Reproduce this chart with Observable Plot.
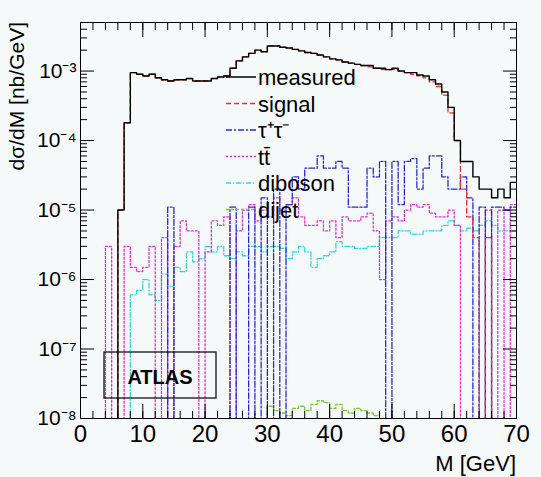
<!DOCTYPE html>
<html><head><meta charset="utf-8">
<script src="https://cdn.jsdelivr.net/npm/d3@7"></script>
<script src="https://cdn.jsdelivr.net/npm/@observablehq/plot@0.6"></script>
<style>body{margin:0;background:#f6f9f9;font-family:Arial,"Liberation Sans",sans-serif}</style>
</head><body><div id="c"></div>
<script>
const Z = 1e-10;
const edges = d3.range(0, 70);
const measured = [Z,Z,Z,Z,Z,Z,1e-5,1.8e-4,9.5e-4,9e-4,8.5e-4,9e-4,8e-4,7.5e-4,7.2e-4,7.5e-4,7.5e-4,7.8e-4,7.2e-4,7.2e-4,7.2e-4,7.8e-4,8.2e-4,8.5e-4,1.1e-3,1.4e-3,1.6e-3,1.8e-3,2e-3,1.9e-3,2.3e-3,2.3e-3,2.2e-3,2.15e-3,2.05e-3,1.95e-3,1.85e-3,1.8e-3,1.7e-3,1.6e-3,1.5e-3,1.45e-3,1.35e-3,1.3e-3,1.25e-3,1.2e-3,1.2e-3,1.1e-3,1.1e-3,1.05e-3,1.1e-3,1e-3,9.5e-4,9.5e-4,8.8e-4,8.5e-4,7.5e-4,6.5e-4,5e-4,3e-4,1e-4,5e-5,5e-5,3e-5,2e-5,2e-5,1.5e-5,2e-5,1.5e-5,2.5e-5];
const signal = [Z,Z,Z,Z,Z,Z,1e-5,1.8e-4,9.5e-4,9e-4,8.5e-4,9e-4,8e-4,7.5e-4,7.2e-4,7.5e-4,7.5e-4,7.8e-4,7.2e-4,7.2e-4,7.2e-4,7.8e-4,8.2e-4,8.5e-4,1.1e-3,1.4e-3,1.6e-3,1.8e-3,2e-3,1.9e-3,2.3e-3,2.3e-3,2.2e-3,2.15e-3,2.05e-3,1.95e-3,1.85e-3,1.8e-3,1.7e-3,1.6e-3,1.5e-3,1.45e-3,1.35e-3,1.3e-3,1.25e-3,1.2e-3,1.15e-3,1.1e-3,1.05e-3,1.05e-3,1.05e-3,1e-3,9.5e-4,9e-4,8.5e-4,8e-4,7e-4,6e-4,4.5e-4,2.5e-4,1e-4,2e-5,8e-6,4e-6,Z,4e-6,Z,Z,Z,Z];
const tautau = [Z,Z,Z,Z,Z,Z,Z,Z,Z,Z,Z,Z,Z,Z,1.1e-5,Z,Z,Z,Z,Z,Z,Z,Z,Z,1.1e-5,Z,Z,1.1e-5,Z,1.5e-5,Z,2e-5,Z,1.2e-5,3e-5,2e-5,4e-5,4e-5,6e-5,4e-5,4e-5,5e-5,4e-5,1.1e-5,1.1e-5,1.1e-5,4e-5,3e-5,5e-5,Z,5e-5,1.2e-5,5e-5,5.5e-5,2e-5,4e-5,6e-5,6e-5,3e-5,2e-5,2e-5,3e-5,1.5e-5,Z,1.1e-5,Z,1.1e-5,1.1e-5,1e-5,1.1e-5];
const ttbar = [Z,Z,Z,Z,3e-6,Z,Z,3e-6,1.5e-6,1.3e-6,1.5e-6,3e-6,Z,4e-6,Z,3e-6,7e-6,5e-6,5e-6,Z,2.5e-6,7e-6,6e-6,8e-6,Z,5e-6,1e-5,1.2e-5,7e-6,1e-5,8e-6,1.5e-5,1e-5,1.2e-5,1.5e-5,8e-6,6e-6,6e-6,7e-6,5e-6,7e-6,4e-6,8e-6,7e-6,7e-6,8e-6,9e-6,5e-6,1e-6,7e-6,8e-6,7e-6,1e-5,1.2e-5,1.1e-5,1.2e-5,9e-6,8e-6,8e-6,1e-5,6e-6,Z,Z,Z,Z,1e-5,Z,1e-5,Z,1.2e-5];
const diboson = [Z,Z,Z,Z,Z,Z,Z,Z,6e-7,7e-7,1e-6,6e-7,5e-7,1.2e-6,8e-7,1.5e-6,1.3e-6,2.5e-6,1.8e-6,2e-6,3e-6,2.5e-6,3e-6,2.2e-6,2e-6,2.5e-6,2.2e-6,3e-6,3e-6,2.5e-6,3e-6,3e-6,2.8e-6,2e-6,2.5e-6,3e-6,2.5e-6,1.5e-6,2e-6,2.2e-6,2.5e-6,3.5e-6,3e-6,3e-6,2.8e-6,2.8e-6,3e-6,3e-6,4e-6,4e-6,4e-6,5e-6,5e-6,4.5e-6,4.5e-6,5e-6,5e-6,5e-6,6e-6,7e-6,6e-6,5e-6,5.5e-6,5e-6,6e-6,7e-6,6e-6,5e-6,5e-6,5e-6];
const dijetVals = [0,0,0,0,0,0,0,0,0,0,0,0,0,0,0,0,0,0,0,0,0,0,0,0,0,0,0,0,0,0,1.5e-8,1.3e-8,1.2e-8,1.1e-8,1.4e-8,1.5e-8,1.3e-8,1.6e-8,1.8e-8,1.7e-8,1.4e-8,1.6e-8,1.3e-8,1.2e-8,1.4e-8,1.3e-8,1.2e-8,1.1e-8,0,0,0,0,0,0,0,0,0,0,0,0,0,0,0,0,0,0,0,0,0,0];
const dijet = dijetVals.map(v => v || Z);
const series = [
  {name:"measured", vals:measured, color:"#000", dash:null, w:1.4},
  {name:"signal", vals:signal, color:"#e8302a", dash:"5,3", w:1.3},
  {name:"τ⁺τ⁻", vals:tautau, color:"#2a2acc", dash:"6,2,2,2", w:1.3},
  {name:"tt̄", vals:ttbar, color:"#e030d8", dash:"2,2", w:1.3},
  {name:"diboson", vals:diboson, color:"#30d8e0", dash:"5,2,1,2", w:1.3},
  {name:"dijet", vals:dijet, color:"#7ac83c", dash:"3,2", w:1.3}
];
const sup = {"-":"⁻","0":"⁰","1":"¹","2":"²","3":"³","4":"⁴","5":"⁵","6":"⁶","7":"⁷","8":"⁸"};
const decades = [1e-8,1e-7,1e-6,1e-5,1e-4,1e-3];
const minor = [];
for (let e=-8;e<=-3;e++) for (let k=2;k<=9;k++){const v=k*10**e; if(v<5e-3) minor.push(v);}
const xMinor = d3.range(0,71,2);
const pts = s => [...s.vals.map((v,i)=>({x:edges[i],y:v})), {x:70,y:s.vals[69]}];
const marks = [];
series.slice().reverse().forEach(s => marks.push(Plot.line(pts(s),{x:"x",y:"y",curve:"step-after",stroke:s.color,strokeWidth:s.w,strokeDasharray:s.dash,clip:true})));
marks.push(Plot.frame({stroke:"#000"}));
const nf = () => "";
marks.push(Plot.axisX({ticks:d3.range(0,71,10),tickSize:-14,tickFormat:d=>d,fontSize:24,tickPadding:20,label:null}));
marks.push(Plot.axisX({ticks:xMinor,tickSize:-7,tickFormat:nf,label:null}));
marks.push(Plot.axisX({anchor:"top",ticks:d3.range(0,71,10),tickSize:-14,tickFormat:nf,label:null}));
marks.push(Plot.axisX({anchor:"top",ticks:xMinor,tickSize:-7,tickFormat:nf,label:null}));
marks.push(Plot.axisY({ticks:decades,tickSize:-14,tickPadding:18,fontSize:21,tickFormat:d=>"10"+String(Math.round(Math.log10(d))).split("").map(c=>sup[c]).join(""),label:null}));
marks.push(Plot.axisY({ticks:minor,tickSize:-7,tickFormat:nf,label:null}));
marks.push(Plot.axisY({anchor:"right",ticks:decades,tickSize:-14,tickFormat:nf,label:null}));
marks.push(Plot.axisY({anchor:"right",ticks:minor,tickSize:-7,tickFormat:nf,label:null}));
const chart = Plot.plot({
  width:541, height:477, marginLeft:80, marginRight:25, marginTop:22, marginBottom:59,
  style:{background:"#f6f9f9", fontFamily:"Arial, 'Liberation Sans', sans-serif", color:"#000"},
  x:{domain:[0,70], label:null}, y:{type:"log", domain:[1e-8,5e-3], label:null},
  marks
});
const svg = d3.select(chart);
const lg = svg.append("g");
series.forEach((s,i)=>{
  const y = 77 + i*26.5;
  lg.append("line").attr("x1",226).attr("x2",256).attr("y1",y).attr("y2",y).attr("stroke",s.color).attr("stroke-width",1.5).attr("stroke-dasharray",s.dash);
  lg.append("text").attr("x",258).attr("y",y+8).attr("text-anchor","start").attr("font-size",22).attr("fill","#000").text(s.name);
});
svg.append("rect").attr("x",104).attr("y",352).attr("width",112).attr("height",46).attr("fill","none").attr("stroke","#000").attr("stroke-width",1.2);
svg.append("text").attr("x",160).attr("y",384).attr("text-anchor","middle").attr("font-size",20).attr("font-weight","bold").text("ATLAS");
svg.append("text").attr("x",516).attr("y",471).attr("text-anchor","end").attr("font-size",22).text("M [GeV]");
svg.append("text").attr("transform","translate(24,22) rotate(-90)").attr("text-anchor","end").attr("font-size",21).text("dσ/dM [nb/GeV]");
document.getElementById("c").append(chart);
</script></body></html>
